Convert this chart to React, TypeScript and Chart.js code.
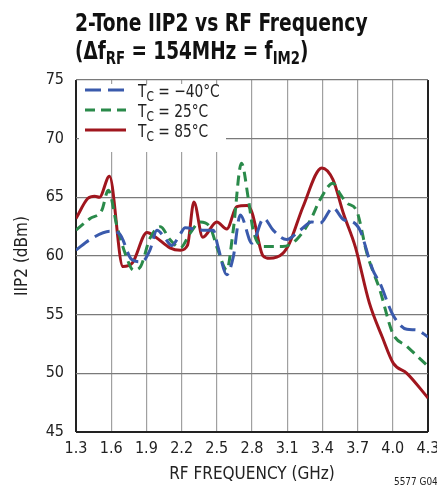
import React, { useEffect, useRef } from "react";
import { Chart, registerables } from "chart.js";

Chart.register(...registerables);

// ---- data ----
const xTicks = [1.3, 1.6, 1.9, 2.2, 2.5, 2.8, 3.1, 3.4, 3.7, 4.0, 4.3];
const yTicks = [45, 50, 55, 60, 65, 70, 75];

const freqM40 = [1.30, 1.42, 1.59, 1.67, 1.775, 1.86, 1.93, 1.99, 2.06, 2.115, 2.19, 2.23, 2.38, 2.47, 2.51, 2.585, 2.64, 2.70, 2.80, 2.90, 2.98, 3.095, 3.21, 3.31, 3.38, 3.49, 3.58, 3.66, 3.72, 3.83, 3.89, 4.00, 4.12, 4.20, 4.30];
const iip2M40 = [60.5, 61.4, 62.1, 61.9, 59.7, 59.5, 60.5, 62.2, 61.5, 60.9, 61.9, 62.4, 62.2, 62.2, 60.8, 58.4, 59.9, 63.5, 61.1, 63.2, 62.2, 61.4, 62.2, 62.9, 62.8, 64.1, 63.1, 62.9, 62.2, 58.8, 57.7, 55.0, 53.75, 53.7, 53.1];

const freq25 = [1.30, 1.42, 1.52, 1.575, 1.65, 1.72, 1.79, 1.85, 1.93, 2.02, 2.10, 2.19, 2.27, 2.36, 2.44, 2.51, 2.585, 2.64, 2.71, 2.77, 2.81, 2.90, 3.06, 3.18, 3.30, 3.38, 3.49, 3.55, 3.61, 3.69, 3.78, 3.89, 4.00, 4.12, 4.30];
const iip2_25 = [62.2, 63.2, 63.9, 65.6, 62.5, 60.2, 58.8, 59.1, 61.5, 62.5, 61.4, 60.7, 61.9, 62.9, 62.5, 60.5, 58.8, 62.2, 67.9, 64.8, 62.2, 60.8, 60.8, 61.4, 63.1, 64.8, 66.2, 65.3, 64.5, 63.9, 60.2, 57.1, 53.4, 52.3, 50.6];

const freq85 = [1.30, 1.40, 1.46, 1.50, 1.585, 1.70, 1.78, 1.905, 1.98, 2.10, 2.19, 2.25, 2.305, 2.38, 2.50, 2.585, 2.67, 2.76, 2.80, 2.895, 2.95, 3.06, 3.12, 3.235, 3.395, 3.49, 3.58, 3.68, 3.80, 3.91, 4.005, 4.12, 4.30];
const iip2_85 = [63.2, 64.9, 65.1, 65.0, 66.8, 59.1, 59.4, 62.0, 61.6, 60.7, 60.5, 60.9, 64.6, 61.6, 62.9, 62.3, 64.2, 64.3, 63.7, 60.0, 59.8, 60.2, 61.1, 64.2, 67.5, 66.5, 63.6, 60.8, 56.0, 53.1, 50.85, 50.0, 47.9];

const seriesLabels = ["−40°C", "25°C", "85°C"];
const seriesColors = ["#3a5aac", "#2a8a4a", "#a0161e"];
const seriesDash = [[16, 7], [10, 6], []];

const FONT = "'Liberation Sans Narrow', 'DejaVu Sans Condensed', 'Roboto Condensed', Arial, sans-serif";

type Run = { t: string; sub?: boolean };

function drawRuns(ctx: CanvasRenderingContext2D, x: number, y: number, runs: Run[], size: number, subSize: number, subDrop: number, weight: string, sx: number) {
  ctx.save();
  ctx.translate(x, y);
  ctx.scale(sx, 1);
  let cx = 0;
  for (const r of runs) {
    ctx.font = `${weight} ${r.sub ? subSize : size}px ${FONT}`;
    ctx.fillText(r.t, cx, r.sub ? subDrop : 0);
    cx += ctx.measureText(r.t).width;
  }
  ctx.restore();
}

const overlayPlugin = {
  id: "overlay",
  beforeDatasetsDraw(chart: any) {
    const ctx = chart.ctx as CanvasRenderingContext2D;
    const a = chart.chartArea;
    ctx.save();
    ctx.fillStyle = "#ffffff";
    ctx.fillRect(a.left + 3, a.top + 4, 147, 68);
    ctx.restore();
  },
  afterDraw(chart: any) {
    const ctx = chart.ctx as CanvasRenderingContext2D;
    const a = chart.chartArea;
    ctx.save();
    ctx.textBaseline = "alphabetic";
    ctx.textAlign = "left";
    ctx.fillStyle = "#111";
    // Title
    drawRuns(ctx, 75, 31, [{ t: "2-Tone IIP2 vs RF Frequency" }], 25, 25, 0, "bold", 0.83);
    drawRuns(ctx, 75, 59, [{ t: "(Δf" }, { t: "RF", sub: true }, { t: " = 154MHz = f" }, { t: "IM2", sub: true }, { t: ")" }], 25, 18, 5, "bold", 0.82);
    // Legend
    const rows = [96, 116, 136];
    for (let i = 0; i < 3; i++) {
      const yy = rows[i] - 1;
      ctx.strokeStyle = seriesColors[i];
      ctx.lineWidth = 3;
      ctx.setLineDash(seriesDash[i]);
      ctx.beginPath();
      ctx.moveTo(a.left + 9, yy - 5);
      ctx.lineTo(a.left + 50, yy - 5);
      ctx.stroke();
      ctx.setLineDash([]);
      ctx.fillStyle = "#222";
      drawRuns(ctx, a.left + 62, rows[i] + 1, [{ t: "T" }, { t: "C", sub: true }, { t: " = " + seriesLabels[i] }], 18, 14, 4, "normal", 0.85);
    }
    // Axis titles
    ctx.fillStyle = "#222";
    ctx.font = `normal 17px ${FONT}`;
    ctx.textAlign = "center";
    ctx.fillText("RF FREQUENCY (GHz)", (a.left + a.right) / 2, 479);
    ctx.save();
    ctx.translate(27, (a.top + a.bottom) / 2);
    ctx.rotate(-Math.PI / 2);
    ctx.fillText("IIP2 (dBm)", 0, 0);
    ctx.restore();
    // Footnote
    ctx.textAlign = "left";
    drawRuns(ctx, 394, 485, [{ t: "5577 G04" }], 11, 11, 0, "normal", 0.9);
    ctx.restore();
  },
};

export default function App() {
  const ref = useRef<HTMLCanvasElement>(null);
  useEffect(() => {
    document.body.style.margin = "0";
    const mk = (fs: number[], vs: number[], i: number) => ({
      label: "TC = " + seriesLabels[i],
      data: fs.map((f, k) => ({ x: f, y: vs[k] })),
      borderColor: seriesColors[i],
      backgroundColor: seriesColors[i],
      borderWidth: 3,
      borderDash: seriesDash[i],
      pointRadius: 0,
      tension: 0.4,
      cubicInterpolationMode: "monotone" as const,
      fill: false,
    });
    const chart = new Chart(ref.current!, {
      type: "line",
      data: {
        datasets: [mk(freqM40, iip2M40, 0), mk(freq25, iip2_25, 1), mk(freq85, iip2_85, 2)],
      },
      options: {
        responsive: false,
        animation: false,
        layout: { padding: { top: 80, right: 9, left: 0, bottom: 0 } },
        plugins: { legend: { display: false }, tooltip: { enabled: false }, title: { display: false } },
        scales: {
          x: {
            type: "linear",
            min: 1.3,
            max: 4.3,
            afterFit: (s: any) => { s.height = 61; s.paddingLeft = 0; s.paddingRight = 0; },
            afterBuildTicks: (s: any) => { s.ticks = xTicks.map((v) => ({ value: v })); },
            ticks: {
              padding: 7,
              color: "#222",
              font: { family: FONT, size: 16 },
              maxRotation: 0,
              autoSkip: false,
              callback: (v: any) => Number(v).toFixed(1),
            },
            grid: {
              drawTicks: false,
              color: (c: any) => (c.tick && (c.tick.value === 1.3 || c.tick.value === 4.3) ? "#222" : "#a0a0a0"),
              lineWidth: (c: any) => (c.tick && (c.tick.value === 1.3 || c.tick.value === 4.3) ? 2 : 1.2),
            },
            border: { display: false },
          },
          y: {
            min: 45,
            max: 75,
            afterFit: (s: any) => { s.width = 76; s.paddingTop = 0; s.paddingBottom = 0; },
            afterBuildTicks: (s: any) => { s.ticks = yTicks.map((v) => ({ value: v })); },
            ticks: {
              padding: 12,
              color: "#222",
              font: { family: FONT, size: 16 },
              autoSkip: false,
            },
            grid: {
              drawTicks: false,
              color: (c: any) => (c.tick && c.tick.value === 45 ? "#222" : "#7a7a7a"),
              lineWidth: (c: any) => (c.tick && c.tick.value === 45 ? 2 : 1.2),
            },
            border: { display: false },
          },
        },
      },
      plugins: [overlayPlugin],
    });
    return () => chart.destroy();
  }, []);
  return (
    <div style={{ width: 437, height: 493, position: "relative" }}>
      <canvas ref={ref} width={437} height={493} style={{ display: "block" }} />
    </div>
  );
}
